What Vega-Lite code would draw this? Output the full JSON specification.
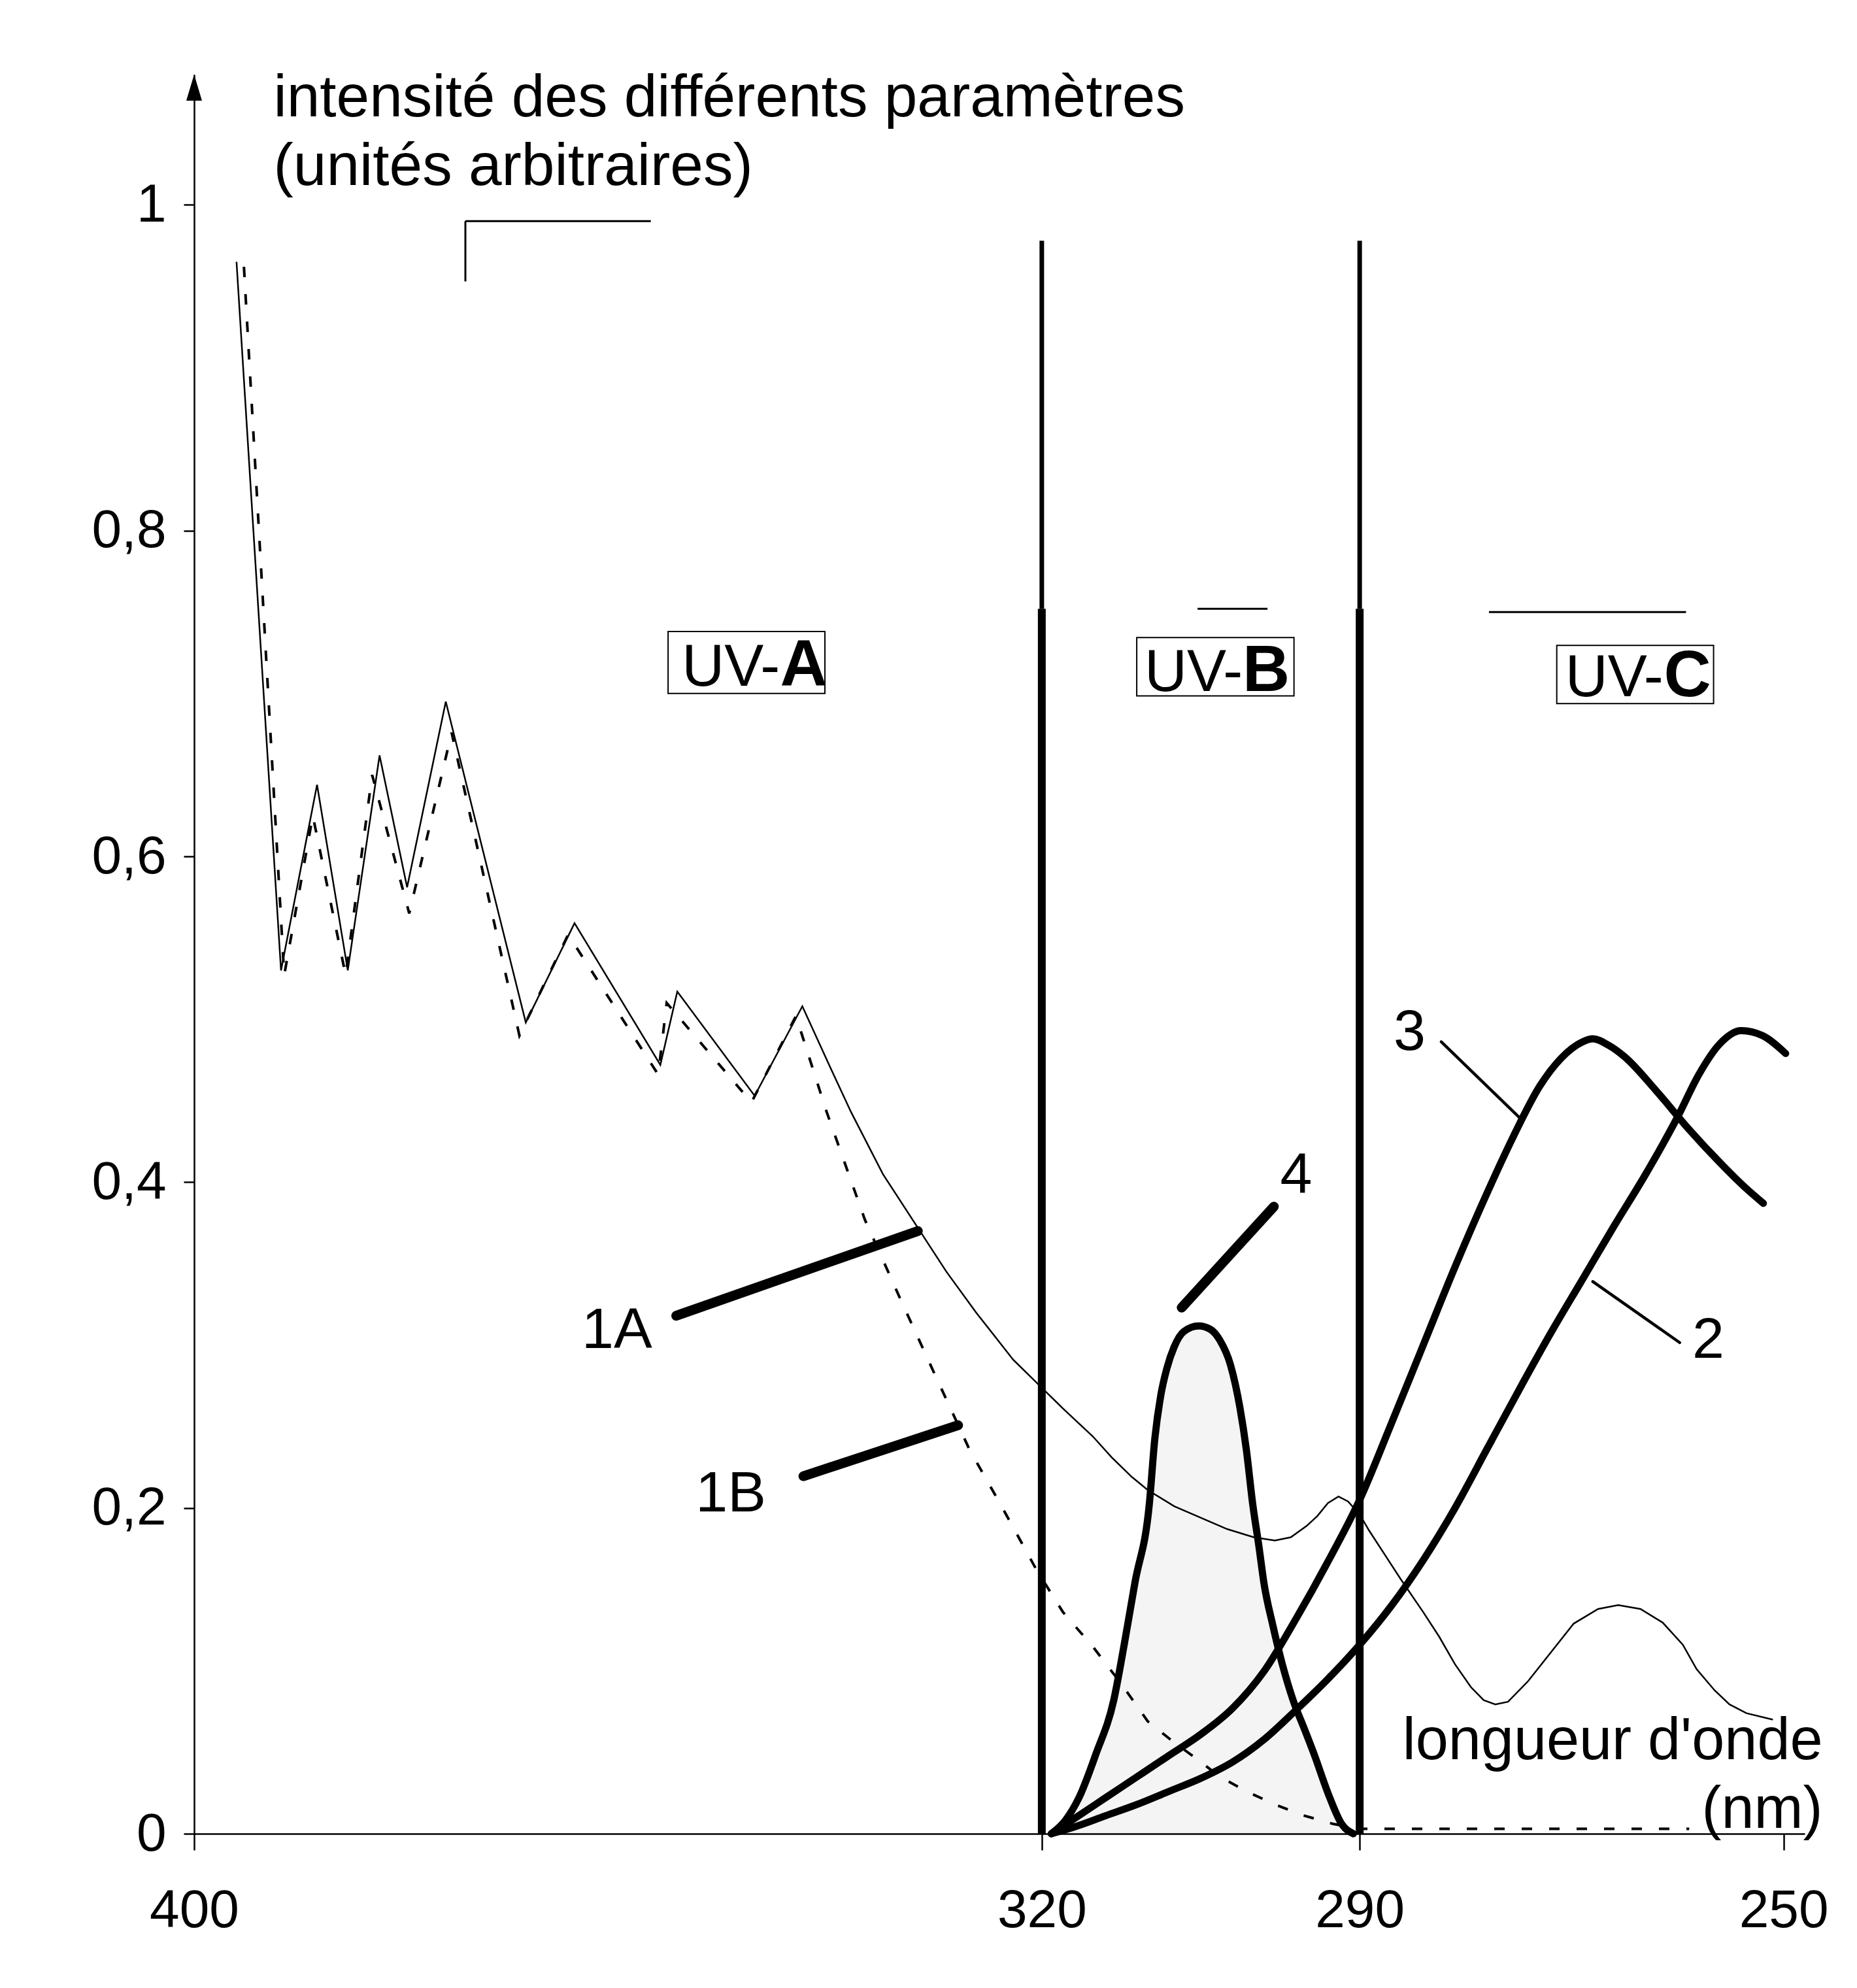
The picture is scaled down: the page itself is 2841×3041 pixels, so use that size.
{
  "$schema": "https://vega.github.io/schema/vega-lite/v6.json",
  "width": 2464,
  "height": 2691,
  "autosize": {"type": "none"},
  "padding": {"left": 297, "top": 114, "right": 80, "bottom": 236},
  "background": "white",
  "config": {
    "view": {"stroke": null},
    "font": "Liberation Sans",
    "axis": {"grid": false}
  },
  "datasets": {
    "c1a": [
      {"nm": 396.0, "v": 0.965}, {"nm": 391.8, "v": 0.530}, {"nm": 388.4, "v": 0.644},
      {"nm": 385.5, "v": 0.530}, {"nm": 382.5, "v": 0.662}, {"nm": 379.9, "v": 0.581},
      {"nm": 376.25, "v": 0.695}, {"nm": 368.7, "v": 0.498}, {"nm": 364.1, "v": 0.559},
      {"nm": 356.0, "v": 0.472}, {"nm": 354.4, "v": 0.517}, {"nm": 347.1, "v": 0.453},
      {"nm": 342.6, "v": 0.508}, {"nm": 340.0, "v": 0.471}, {"nm": 338.0, "v": 0.443},
      {"nm": 335.0, "v": 0.405}, {"nm": 331.7, "v": 0.372}, {"nm": 329.0, "v": 0.345},
      {"nm": 326.2, "v": 0.320}, {"nm": 322.7, "v": 0.291}, {"nm": 320.5, "v": 0.277},
      {"nm": 318.0, "v": 0.261}, {"nm": 315.2, "v": 0.244}, {"nm": 313.4, "v": 0.231},
      {"nm": 311.5, "v": 0.219}, {"nm": 310.0, "v": 0.211}, {"nm": 307.5, "v": 0.201},
      {"nm": 305.0, "v": 0.194}, {"nm": 302.5, "v": 0.187}, {"nm": 300.0, "v": 0.182},
      {"nm": 298.0, "v": 0.180}, {"nm": 296.5, "v": 0.182}, {"nm": 295.0, "v": 0.189},
      {"nm": 294.0, "v": 0.195}, {"nm": 293.0, "v": 0.203}, {"nm": 292.0, "v": 0.207},
      {"nm": 291.1, "v": 0.204}, {"nm": 290.0, "v": 0.196}, {"nm": 289.1, "v": 0.186},
      {"nm": 287.5, "v": 0.170}, {"nm": 286.1, "v": 0.156}, {"nm": 284.0, "v": 0.136},
      {"nm": 282.5, "v": 0.121}, {"nm": 281.0, "v": 0.104}, {"nm": 279.5, "v": 0.090},
      {"nm": 278.3, "v": 0.082}, {"nm": 277.2, "v": 0.0794}, {"nm": 276.0, "v": 0.081},
      {"nm": 274.1, "v": 0.0937}, {"nm": 272.0, "v": 0.111}, {"nm": 269.8, "v": 0.129},
      {"nm": 267.5, "v": 0.138}, {"nm": 265.6, "v": 0.1404}, {"nm": 263.5, "v": 0.138},
      {"nm": 261.4, "v": 0.1296}, {"nm": 259.5, "v": 0.116}, {"nm": 258.2, "v": 0.101},
      {"nm": 256.5, "v": 0.088}, {"nm": 255.1, "v": 0.0794}, {"nm": 253.5, "v": 0.074},
      {"nm": 251.0, "v": 0.070}
    ],
    "c1b": [
      {"nm": 395.3, "v": 0.962}, {"nm": 391.5, "v": 0.527}, {"nm": 388.8, "v": 0.625},
      {"nm": 385.7, "v": 0.527}, {"nm": 383.2, "v": 0.650}, {"nm": 379.7, "v": 0.565},
      {"nm": 375.7, "v": 0.676}, {"nm": 369.3, "v": 0.490}, {"nm": 364.7, "v": 0.552},
      {"nm": 356.2, "v": 0.466}, {"nm": 355.4, "v": 0.510}, {"nm": 347.4, "v": 0.449},
      {"nm": 343.2, "v": 0.502}, {"nm": 340.3, "v": 0.443}, {"nm": 336.7, "v": 0.377},
      {"nm": 333.4, "v": 0.329}, {"nm": 330.1, "v": 0.282}, {"nm": 326.8, "v": 0.2355},
      {"nm": 324.0, "v": 0.2034}, {"nm": 320.5, "v": 0.162}, {"nm": 318.0, "v": 0.136},
      {"nm": 315.2, "v": 0.115}, {"nm": 312.5, "v": 0.092}, {"nm": 310.0, "v": 0.069},
      {"nm": 307.7, "v": 0.057}, {"nm": 305.4, "v": 0.046}, {"nm": 303.2, "v": 0.035},
      {"nm": 300.7, "v": 0.026}, {"nm": 298.0, "v": 0.018}, {"nm": 295.4, "v": 0.0114},
      {"nm": 292.5, "v": 0.006}, {"nm": 290.0, "v": 0.003}, {"nm": 258.9, "v": 0.003}
    ],
    "thick": [
      {"curve": "2", "nm": 319.1, "v": 0}, {"curve": "2", "nm": 317.0, "v": 0.004},
      {"curve": "2", "nm": 314.0, "v": 0.011}, {"curve": "2", "nm": 311.0, "v": 0.018},
      {"curve": "2", "nm": 308.0, "v": 0.026}, {"curve": "2", "nm": 305.0, "v": 0.034},
      {"curve": "2", "nm": 302.0, "v": 0.044}, {"curve": "2", "nm": 299.0, "v": 0.058},
      {"curve": "2", "nm": 296.0, "v": 0.076}, {"curve": "2", "nm": 293.0, "v": 0.095},
      {"curve": "2", "nm": 290.0, "v": 0.116}, {"curve": "2", "nm": 287.0, "v": 0.140},
      {"curve": "2", "nm": 284.0, "v": 0.168}, {"curve": "2", "nm": 281.0, "v": 0.200},
      {"curve": "2", "nm": 278.0, "v": 0.236}, {"curve": "2", "nm": 275.0, "v": 0.272},
      {"curve": "2", "nm": 272.0, "v": 0.307}, {"curve": "2", "nm": 269.0, "v": 0.340},
      {"curve": "2", "nm": 266.0, "v": 0.373}, {"curve": "2", "nm": 263.0, "v": 0.405},
      {"curve": "2", "nm": 260.0, "v": 0.440}, {"curve": "2", "nm": 258.0, "v": 0.466},
      {"curve": "2", "nm": 256.0, "v": 0.485}, {"curve": "2", "nm": 254.0, "v": 0.493},
      {"curve": "2", "nm": 252.0, "v": 0.490}, {"curve": "2", "nm": 249.8, "v": 0.479},
      {"curve": "3", "nm": 319.1, "v": 0}, {"curve": "3", "nm": 317.0, "v": 0.009},
      {"curve": "3", "nm": 314.0, "v": 0.022}, {"curve": "3", "nm": 311.0, "v": 0.035},
      {"curve": "3", "nm": 308.0, "v": 0.048}, {"curve": "3", "nm": 305.0, "v": 0.061},
      {"curve": "3", "nm": 302.0, "v": 0.077}, {"curve": "3", "nm": 299.0, "v": 0.100},
      {"curve": "3", "nm": 296.0, "v": 0.132}, {"curve": "3", "nm": 293.0, "v": 0.167},
      {"curve": "3", "nm": 290.0, "v": 0.205}, {"curve": "3", "nm": 287.0, "v": 0.252},
      {"curve": "3", "nm": 284.0, "v": 0.300}, {"curve": "3", "nm": 281.0, "v": 0.348},
      {"curve": "3", "nm": 278.0, "v": 0.393}, {"curve": "3", "nm": 275.5, "v": 0.428},
      {"curve": "3", "nm": 273.0, "v": 0.459}, {"curve": "3", "nm": 271.0, "v": 0.476},
      {"curve": "3", "nm": 269.0, "v": 0.486}, {"curve": "3", "nm": 268.0, "v": 0.488},
      {"curve": "3", "nm": 266.5, "v": 0.484}, {"curve": "3", "nm": 265.0, "v": 0.477},
      {"curve": "3", "nm": 262.0, "v": 0.456}, {"curve": "3", "nm": 259.0, "v": 0.433},
      {"curve": "3", "nm": 256.0, "v": 0.412}, {"curve": "3", "nm": 253.5, "v": 0.396},
      {"curve": "3", "nm": 251.9, "v": 0.387},
      {"curve": "4", "nm": 319.1, "v": 0}, {"curve": "4", "nm": 317.8, "v": 0.008},
      {"curve": "4", "nm": 316.5, "v": 0.022}, {"curve": "4", "nm": 314.9, "v": 0.0488},
      {"curve": "4", "nm": 313.2, "v": 0.0823}, {"curve": "4", "nm": 312.2, "v": 0.117},
      {"curve": "4", "nm": 311.2, "v": 0.1545}, {"curve": "4", "nm": 309.85, "v": 0.2026},
      {"curve": "4", "nm": 309.33, "v": 0.2428}, {"curve": "4", "nm": 308.76, "v": 0.2695},
      {"curve": "4", "nm": 308.2, "v": 0.2856}, {"curve": "4", "nm": 307.5, "v": 0.299},
      {"curve": "4", "nm": 306.6, "v": 0.3083}, {"curve": "4", "nm": 305.2, "v": 0.3117},
      {"curve": "4", "nm": 304.1, "v": 0.3097}, {"curve": "4", "nm": 303.2, "v": 0.303},
      {"curve": "4", "nm": 302.2, "v": 0.288}, {"curve": "4", "nm": 301.3, "v": 0.2615},
      {"curve": "4", "nm": 300.7, "v": 0.236}, {"curve": "4", "nm": 300.1, "v": 0.2026},
      {"curve": "4", "nm": 299.5, "v": 0.176}, {"curve": "4", "nm": 299.05, "v": 0.1545},
      {"curve": "4", "nm": 298.2, "v": 0.128}, {"curve": "4", "nm": 297.3, "v": 0.104},
      {"curve": "4", "nm": 296.3, "v": 0.0823}, {"curve": "4", "nm": 295.2, "v": 0.064},
      {"curve": "4", "nm": 294.3, "v": 0.0488}, {"curve": "4", "nm": 292.9, "v": 0.0234},
      {"curve": "4", "nm": 291.7, "v": 0.006}, {"curve": "4", "nm": 290.6, "v": 0}
    ],
    "boundsLow": [
      {"nm": 320, "v": 0, "v2": 0.752},
      {"nm": 290, "v": 0, "v2": 0.752}
    ],
    "boundsHigh": [
      {"nm": 320, "v": 0.752, "v2": 0.978},
      {"nm": 290, "v": 0.752, "v2": 0.978}
    ],
    "leadersThick": [
      {"nm": 354.5, "v": 0.318, "nm2": 331.7, "v2": 0.370},
      {"nm": 342.5, "v": 0.2195, "nm2": 327.9, "v2": 0.2508},
      {"nm": 306.8, "v": 0.323, "nm2": 298.1, "v2": 0.385}
    ],
    "leadersThin": [
      {"nm": 282.3, "v": 0.4862, "nm2": 274.9, "v2": 0.4395},
      {"nm": 268.0, "v": 0.339, "nm2": 259.8, "v2": 0.3015}
    ],
    "residue": [
      {"nm": 305.3, "v": 0.752, "nm2": 298.7, "v2": 0.752},
      {"nm": 277.8, "v": 0.750, "nm2": 259.2, "v2": 0.750},
      {"nm": 374.4, "v": 0.990, "nm2": 356.9, "v2": 0.990},
      {"nm": 374.4, "v": 0.953, "nm2": 374.4, "v2": 0.990}
    ],
    "labels": [
      {"nm": 360.1, "v": 0.3085, "label": "1A"},
      {"nm": 349.35, "v": 0.2083, "label": "1B"},
      {"nm": 296.0, "v": 0.4037, "label": "4"},
      {"nm": 285.3, "v": 0.4916, "label": "3"},
      {"nm": 257.1, "v": 0.3026, "label": "2"}
    ],
    "boxes": [
      {"nm": 355.27, "nm2": 340.47, "v": 0.7381, "v2": 0.7000},
      {"nm": 311.04, "nm2": 296.2, "v": 0.7343, "v2": 0.6985},
      {"nm": 271.4, "nm2": 256.6, "v": 0.7295, "v2": 0.6938}
    ],
    "uvText": [
      {"nm": 353.97, "v": 0.7047, "label": "UV-"},
      {"nm": 310.3, "v": 0.7015, "label": "UV-"},
      {"nm": 270.6, "v": 0.6984, "label": "UV-"}
    ],
    "uvLetter": [
      {"nm": 344.7, "v": 0.7047, "label": "A"},
      {"nm": 301.05, "v": 0.7015, "label": "B"},
      {"nm": 261.3, "v": 0.6984, "label": "C"}
    ],
    "arrow": [{"nm": 400, "v": 1.072}]
  },
  "encoding": {
    "x": {
      "field": "nm",
      "type": "quantitative",
      "scale": {"domain": [400, 248], "nice": false, "zero": false},
      "axis": {
        "values": [400, 320, 290, 250],
        "format": "d",
        "title": ["longueur d'onde", "(nm)"],
        "titleX": 2491,
        "titleY": -115,
        "titleAlign": "right",
        "titleBaseline": "alphabetic",
        "titleFontSize": 90,
        "titleFontWeight": "normal",
        "titleColor": "black",
        "titleLineHeight": 105,
        "labelFontSize": 82,
        "labelColor": "black",
        "labelPadding": 52,
        "labelFlush": false,
        "labelOverlap": false,
        "tickSize": 25,
        "tickWidth": 2.5,
        "tickColor": "black",
        "domainColor": "black",
        "domainWidth": 2.5
      }
    },
    "y": {
      "field": "v",
      "type": "quantitative",
      "scale": {"domain": [0, 1.08], "nice": false},
      "axis": {
        "values": [0, 0.2, 0.4, 0.6, 0.8, 1],
        "labelExpr": "datum.value == 0 ? '0' : (datum.value == 1 ? '1' : replace(format(datum.value, '.1f'), '.', ','))",
        "title": ["intensité des différents paramètres", "(unités arbitraires)"],
        "titleX": 121,
        "titleY": 63,
        "titleAngle": 0,
        "titleAlign": "left",
        "titleBaseline": "alphabetic",
        "titleFontSize": 91,
        "titleFontWeight": "normal",
        "titleColor": "black",
        "titleLineHeight": 105,
        "labelFontSize": 82,
        "labelColor": "black",
        "labelPadding": 27,
        "labelFlush": false,
        "labelOverlap": false,
        "tickSize": 16,
        "tickWidth": 2.5,
        "tickColor": "black",
        "domainColor": "black",
        "domainWidth": 2.5
      }
    }
  },
  "layer": [
    {
      "data": {"name": "thick"},
      "transform": [{"filter": "datum.curve == '4'"}],
      "mark": {"type": "area", "interpolate": "monotone", "color": "black", "opacity": 0.045}
    },
    {
      "data": {"name": "boundsLow"},
      "mark": {"type": "rule", "color": "black", "strokeWidth": 12},
      "encoding": {"y2": {"field": "v2"}}
    },
    {
      "data": {"name": "boundsHigh"},
      "mark": {"type": "rule", "color": "black", "strokeWidth": 7},
      "encoding": {"y2": {"field": "v2"}}
    },
    {
      "data": {"name": "residue"},
      "mark": {"type": "rule", "color": "black", "strokeWidth": 3},
      "encoding": {"x2": {"field": "nm2"}, "y2": {"field": "v2"}}
    },
    {
      "data": {"name": "c1a"},
      "mark": {"type": "line", "color": "black", "strokeWidth": 2.5, "interpolate": "linear"}
    },
    {
      "data": {"name": "c1b"},
      "mark": {"type": "line", "color": "black", "strokeWidth": 4, "strokeDash": [16, 26], "interpolate": "linear"}
    },
    {
      "data": {"name": "thick"},
      "mark": {"type": "line", "color": "black", "strokeWidth": 11, "interpolate": "monotone", "strokeJoin": "round", "strokeCap": "round"},
      "encoding": {"detail": {"field": "curve"}}
    },
    {
      "data": {"name": "leadersThick"},
      "mark": {"type": "rule", "color": "black", "strokeWidth": 15, "strokeCap": "round"},
      "encoding": {"x2": {"field": "nm2"}, "y2": {"field": "v2"}}
    },
    {
      "data": {"name": "leadersThin"},
      "mark": {"type": "rule", "color": "black", "strokeWidth": 4.5, "strokeCap": "round"},
      "encoding": {"x2": {"field": "nm2"}, "y2": {"field": "v2"}}
    },
    {
      "data": {"name": "labels"},
      "mark": {"type": "text", "color": "black", "fontSize": 88, "align": "center", "baseline": "middle", "font": "Liberation Sans"},
      "encoding": {"text": {"field": "label"}}
    },
    {
      "data": {"name": "boxes"},
      "mark": {"type": "rect", "fill": null, "fillOpacity": 0, "stroke": "black", "strokeWidth": 2},
      "encoding": {"x2": {"field": "nm2"}, "y2": {"field": "v2"}}
    },
    {
      "data": {"name": "uvText"},
      "mark": {"type": "text", "color": "black", "fontSize": 90, "align": "left", "baseline": "alphabetic", "font": "Liberation Sans"},
      "encoding": {"text": {"field": "label"}}
    },
    {
      "data": {"name": "uvLetter"},
      "mark": {"type": "text", "color": "black", "fontSize": 100, "fontWeight": "bold", "align": "left", "baseline": "alphabetic", "font": "Liberation Sans"},
      "encoding": {"text": {"field": "label"}}
    },
    {
      "data": {"name": "arrow"},
      "mark": {"type": "point", "filled": true, "color": "black", "opacity": 1, "size": 1600, "shape": "M0,-1L0.6,1L-0.6,1Z"}
    }
  ]
}
